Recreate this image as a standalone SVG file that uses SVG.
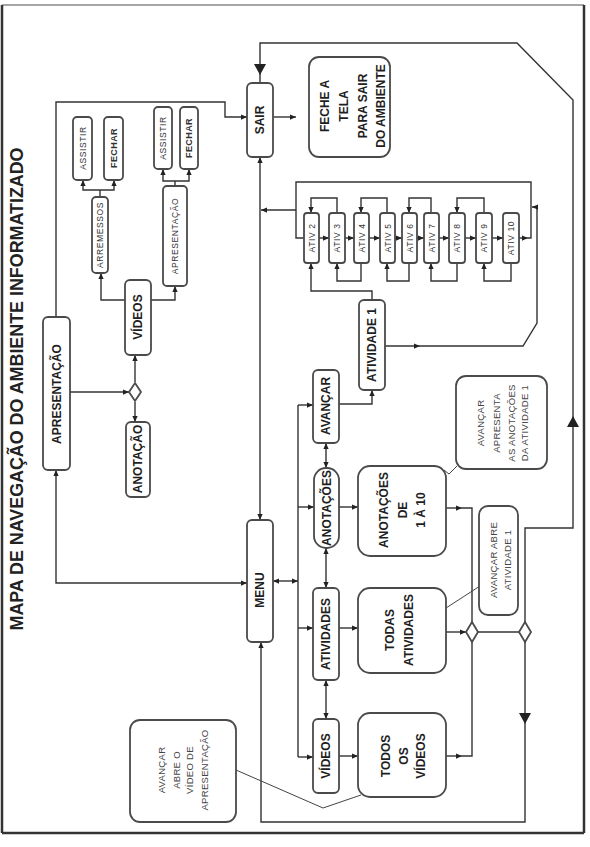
<svg xmlns="http://www.w3.org/2000/svg" width="590" height="847" viewBox="0 0 590 847">
<defs>
<marker id="ar" viewBox="0 0 8 8" refX="8" refY="4" markerWidth="6" markerHeight="6" markerUnits="userSpaceOnUse" orient="auto-start-reverse"><path d="M0,0.5 L8,4 L0,7.5 z" fill="#222"/></marker>
<style>
.box{fill:#fff;stroke:#4a4a4a;stroke-width:1.8}
.ln{fill:none;stroke:#333;stroke-width:1.4}
.th{fill:none;stroke:#444;stroke-width:1}
.arr{marker-end:url(#ar)}
.bi{marker-start:url(#ar);marker-end:url(#ar)}
text{font-family:"Liberation Sans",Arial,sans-serif;text-anchor:middle;dominant-baseline:central;fill:#1e1e1e}
.t{font-weight:bold;font-size:12px}
.s{font-size:8.5px;letter-spacing:0.6px;fill:#333}
.sb{font-weight:bold;font-size:9px;letter-spacing:0.4px;fill:#333}
.c{font-size:9.5px;letter-spacing:0.3px;fill:#444}
.title{font-weight:bold;font-size:18px;fill:#222}
</style>
</defs>
<rect x="0" y="0" width="590" height="847" fill="#fff"/>
<!-- frame -->
<line x1="2" y1="5" x2="584" y2="5" stroke="#888" stroke-width="1.5"/>
<line x1="2" y1="5" x2="2" y2="833" stroke="#333" stroke-width="2.5"/>
<line x1="584" y1="5" x2="584" y2="833" stroke="#333" stroke-width="2.5"/>
<line x1="2" y1="833" x2="584" y2="833" stroke="#333" stroke-width="2.5"/>

<text class="title" transform="translate(17,389) rotate(-90)" textLength="483" lengthAdjust="spacingAndGlyphs">MAPA DE NAVEGAÇÃO DO AMBIENTE INFORMATIZADO</text>

<g id="connectors">
<!-- top loop to SAIR -->
<path class="ln" d="M525,628 V528 H573 V100 L517,43 H260 V83"/>
<polygon points="254,64 266,64 260,75" fill="#222"/>
<polygon points="567,427 579,427 573,416" fill="#222"/>
<!-- bottom loop to MENU -->
<path class="ln arr" d="M525,637 V822 H261 V642"/>
<polygon points="519,713 531,713 525,724" fill="#222"/>
<!-- diamonds link -->
<line class="ln" x1="478" y1="632" x2="519" y2="632"/>
<path class="ln arr" d="M446,632 H466"/>
<path class="ln arr" d="M446,756 H462"/>
<path class="ln" d="M462,756 H472 V638"/>
<path class="ln arr" d="M446,508 H462"/>
<path class="ln" d="M462,508 H472 V626"/>
<!-- menu bus -->
<path class="ln bi" d="M273,581 H298"/>
<path class="ln" d="M298,405 V757"/>
<path class="ln arr" d="M298,405 H313"/>
<path class="ln arr" d="M298,507 H314"/>
<path class="ln arr" d="M298,628 H313"/>
<path class="ln arr" d="M298,757 H313"/>
<path class="ln bi" d="M326,443 V468"/>
<path class="ln bi" d="M326,548 V588"/>
<path class="ln bi" d="M326,680 V719"/>
<path class="ln arr" d="M339,507 H358"/>
<path class="ln arr" d="M339,628 H358"/>
<path class="ln arr" d="M339,756 H358"/>
<!-- avancar -> atividade 1 -->
<path class="ln arr" d="M339,404 H372 V390"/>
<path class="ln arr" d="M372,300 V291 H311 V263"/>
<path class="ln arr" d="M385,346 H420"/>
<path class="ln arr" d="M420,346 H523 L537,323 V207 H532"/>
<!-- ATIV row -->
<path class="ln arr" d="M519,238 H528"/>
<path class="ln" d="M528,238 H531 V182 H296 V238 H304"/>
<path class="ln arr" d="M296,210 H261"/>
<path class="ln arr" d="M319,238 H329"/>
<path class="ln arr" d="M345,238 H354"/>
<path class="ln arr" d="M369,238 H380"/>
<path class="ln arr" d="M395,238 H402"/>
<path class="ln arr" d="M417,238 H424"/>
<path class="ln arr" d="M439,238 H449"/>
<path class="ln arr" d="M465,238 H476"/>
<path class="ln arr" d="M492,238 H503"/>
<path class="ln arr" d="M337,213 V198 H311 V213"/>
<path class="ln arr" d="M387,213 V198 H361 V213"/>
<path class="ln arr" d="M431,213 V198 H409 V213"/>
<path class="ln arr" d="M484,213 V198 H457 V213"/>
<path class="ln arr" d="M361,263 V281 H337 V263"/>
<path class="ln arr" d="M409,263 V281 H387 V263"/>
<path class="ln arr" d="M457,263 V281 H431 V263"/>
<path class="ln arr" d="M511,263 V281 H484 V263"/>
<!-- SAIR -->
<path class="ln arr" d="M273,117 H296"/>
<path class="ln bi" d="M260,157 V520"/>
<path class="ln arr" d="M56,317 V102 H225 V117 H247"/>
<path class="ln bi" d="M247,583 H56 V470"/>
<!-- left part -->
<path class="ln arr" d="M70,392 H129"/>
<path class="ln arr" d="M135,382 V355"/>
<path class="ln arr" d="M135,402 V422"/>
<path class="ln arr" d="M125,300 H101 V273"/>
<path class="ln arr" d="M151,300 H175 V286"/>
<path class="ln" d="M100,197 V190"/>
<path class="ln bi" d="M83,180 V190 H114 V180"/>
<path class="ln" d="M175,186 V181"/>
<path class="ln bi" d="M163,169 V181 H189 V169"/>
<!-- callout pointers -->
<path class="th" d="M444,470 L449,474 L457,466"/>
<path class="th" d="M446,608 L480,586"/>
<path class="th" d="M236,770 L323,808 L361,795"/>
</g>

<g id="diamond1"><polygon class="box" points="472,622 478,632 472,642 466,632" stroke-width="1.4"/></g>
<g id="diamond2"><polygon class="box" points="525,622 531,632 525,642 519,632" stroke-width="1.4"/></g>
<g id="diamond3"><polygon class="box" points="135,383 141,392 135,401 129,392" stroke-width="1.4"/></g>

<g id="sair"><rect class="box" x="247" y="83" width="26" height="74" rx="5"/><text class="t" transform="translate(260,120) rotate(-90)">SAIR</text></g>
<g id="feche"><rect class="box" x="309" y="57" width="81" height="100" rx="10"/>
<text class="t" transform="translate(353,106) rotate(-90)"><tspan x="0" y="-28">FECHE A</tspan><tspan x="0" y="-9">TELA</tspan><tspan x="0" y="10">PARA SAIR</tspan><tspan x="0" y="28">DO AMBIENTE</tspan></text></g>
<g id="menu"><rect class="box" x="247" y="520" width="26" height="122" rx="5"/><text class="t" transform="translate(260,590) rotate(-90)">MENU</text></g>
<g id="apresentacao"><rect class="box" x="43" y="317" width="27" height="153" rx="5"/><text class="t" transform="translate(56.5,394) rotate(-90)">APRESENTAÇÃO</text></g>
<g id="videos-l"><rect class="box" x="125" y="280" width="26" height="75" rx="5"/><text class="t" transform="translate(138,317) rotate(-90)">VÍDEOS</text></g>
<g id="anotacao"><rect class="box" x="126" y="422" width="24" height="75" rx="5"/><text class="t" transform="translate(138,459) rotate(-90)">ANOTAÇÃO</text></g>
<g id="arremessos"><rect class="box" x="92" y="197" width="16" height="76" rx="4"/><text class="s" transform="translate(100,235) rotate(-90)">ARREMESSOS</text></g>
<g id="apres-small"><rect class="box" x="163" y="186" width="24" height="100" rx="4"/><text class="s" transform="translate(175,236) rotate(-90)">APRESENTAÇÃO</text></g>
<g id="assistir1"><rect class="box" x="73" y="117" width="19" height="63" rx="4"/><text class="s" transform="translate(82.5,148) rotate(-90)">ASSISTIR</text></g>
<g id="fechar1"><rect class="box" x="104" y="117" width="19" height="63" rx="4"/><text class="sb" transform="translate(113.5,148) rotate(-90)">FECHAR</text></g>
<g id="assistir2"><rect class="box" x="154" y="107" width="18" height="62" rx="4"/><text class="s" transform="translate(163,138) rotate(-90)">ASSISTIR</text></g>
<g id="fechar2"><rect class="box" x="180" y="107" width="18" height="62" rx="4"/><text class="sb" transform="translate(189,138) rotate(-90)">FECHAR</text></g>

<g id="avancar"><rect class="box" x="313" y="370" width="26" height="73" rx="5"/><text class="t" transform="translate(326,406) rotate(-90)">AVANÇAR</text></g>
<g id="anotacoes"><rect class="box" x="314" y="468" width="25" height="80" rx="12"/><text class="t" transform="translate(326.5,508) rotate(-90)">ANOTAÇÕES</text></g>
<g id="atividades"><rect class="box" x="313" y="588" width="26" height="92" rx="5"/><text class="t" transform="translate(326,634) rotate(-90)">ATIVIDADES</text></g>
<g id="videos"><rect class="box" x="313" y="719" width="26" height="74" rx="5"/><text class="t" transform="translate(326,756) rotate(-90)">VÍDEOS</text></g>
<g id="atividade1"><rect class="box" x="359" y="300" width="26" height="90" rx="5"/><text class="t" transform="translate(372,345) rotate(-90)">ATIVIDADE 1</text></g>

<g id="anot1a10"><rect class="box" x="358" y="466" width="88" height="90" rx="12"/>
<text class="t" transform="translate(402,510) rotate(-90)"><tspan x="0" y="-18">ANOTAÇÕES</tspan><tspan x="0" y="1">DE</tspan><tspan x="0" y="19">1 À 10</tspan></text></g>
<g id="todasatividades"><rect class="box" x="358" y="588" width="88" height="85" rx="12"/>
<text class="t" transform="translate(400,630) rotate(-90)"><tspan x="0" y="-10">TODAS</tspan><tspan x="0" y="9">ATIVIDADES</tspan></text></g>
<g id="todosvideos"><rect class="box" x="358" y="713" width="88" height="84" rx="12"/>
<text class="t" transform="translate(403,756) rotate(-90)"><tspan x="0" y="-17">TODOS</tspan><tspan x="0" y="1">OS</tspan><tspan x="0" y="18">VÍDEOS</tspan></text></g>

<g id="ativ2"><rect class="box" x="304" y="213" width="15" height="50" rx="3"/><text class="s" transform="translate(311.5,238) rotate(-90)">ATIV 2</text></g>
<g id="ativ3"><rect class="box" x="329" y="213" width="16" height="50" rx="3"/><text class="s" transform="translate(337,238) rotate(-90)">ATIV 3</text></g>
<g id="ativ4"><rect class="box" x="354" y="213" width="15" height="50" rx="3"/><text class="s" transform="translate(361.5,238) rotate(-90)">ATIV 4</text></g>
<g id="ativ5"><rect class="box" x="380" y="213" width="15" height="50" rx="3"/><text class="s" transform="translate(387.5,238) rotate(-90)">ATIV 5</text></g>
<g id="ativ6"><rect class="box" x="402" y="213" width="15" height="50" rx="3"/><text class="s" transform="translate(409.5,238) rotate(-90)">ATIV 6</text></g>
<g id="ativ7"><rect class="box" x="424" y="213" width="15" height="50" rx="3"/><text class="s" transform="translate(431.5,238) rotate(-90)">ATIV 7</text></g>
<g id="ativ8"><rect class="box" x="449" y="213" width="16" height="50" rx="3"/><text class="s" transform="translate(457,238) rotate(-90)">ATIV 8</text></g>
<g id="ativ9"><rect class="box" x="476" y="213" width="16" height="50" rx="3"/><text class="s" transform="translate(484,238) rotate(-90)">ATIV 9</text></g>
<g id="ativ10"><rect class="box" x="503" y="213" width="16" height="50" rx="3"/><text class="s" transform="translate(511,238) rotate(-90)">ATIV 10</text></g>

<g id="callout-anot"><rect class="box" x="456" y="376" width="91" height="93" rx="10" stroke-width="1.4"/>
<text class="c" transform="translate(502,423) rotate(-90)"><tspan x="0" y="-22">AVANÇAR</tspan><tspan x="0" y="-6">APRESENTA</tspan><tspan x="0" y="9">AS ANOTAÇÕES</tspan><tspan x="0" y="22">DA ATIVIDADE 1</tspan></text></g>
<g id="callout-ativ"><rect class="box" x="479" y="506" width="39" height="109" rx="9" stroke-width="1.4"/>
<text class="c" transform="translate(500,560) rotate(-90)"><tspan x="0" y="-7">AVANÇAR ABRE</tspan><tspan x="0" y="7">ATIVIDADE 1</tspan></text></g>
<g id="callout-video"><rect class="box" x="130" y="720" width="106" height="102" rx="10" stroke-width="1.4"/>
<text class="c" transform="translate(182,770) rotate(-90)"><tspan x="0" y="-21">AVANÇAR</tspan><tspan x="0" y="-6">ABRE O</tspan><tspan x="0" y="7">VÍDEO DE</tspan><tspan x="0" y="22">APRESENTAÇÃO</tspan></text></g>
</svg>
